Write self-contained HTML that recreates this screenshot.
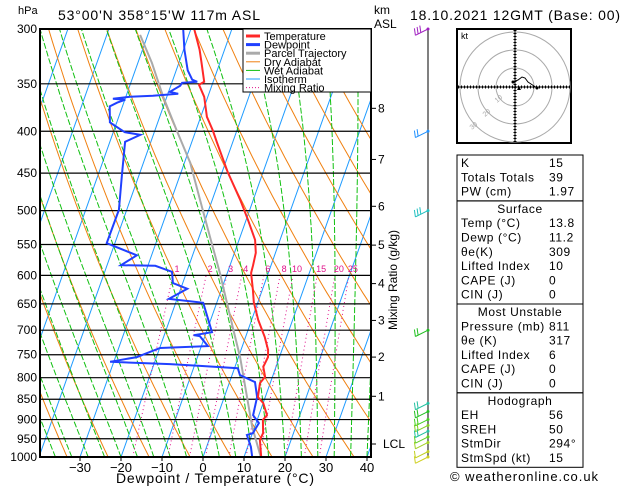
<!DOCTYPE html>
<html><head><meta charset="utf-8"><style>
body{margin:0;background:#fff;}
svg{display:block;font-family:"Liberation Sans",sans-serif;}
</style></head><body>
<svg id="c" width="629" height="486" viewBox="0 0 629 486">
<defs><clipPath id="clip"><rect x="40" y="29" width="331" height="428"/></clipPath></defs>
<g id="bg" clip-path="url(#clip)"></g>
<g id="grid"></g>
<g id="series" clip-path="url(#clip)"></g>
<rect x="40" y="29" width="331" height="428" fill="none" stroke="#000" stroke-width="2"/>
<g id="axes" font-size="12"></g>
<text x="18" y="14" font-size="11">hPa</text>
<text x="58" y="20" font-size="14" textLength="202">53°00'N  358°15'W  117m  ASL</text>
<text x="374" y="14" font-size="12">km</text>
<text x="374" y="28" font-size="12">ASL</text>
<text x="410" y="20" font-size="14" textLength="210">18.10.2021  12GMT  (Base: 00)</text>
<text x="116" y="483" font-size="14" textLength="198">Dewpoint / Temperature (°C)</text>
<text x="397" y="280" font-size="12" transform="rotate(-90 397 280)" text-anchor="middle">Mixing Ratio (g/kg)</text>
<g id="legend" font-size="11">
<rect x="243" y="29" width="128" height="63" fill="#fff" stroke="#000"/>
</g>
<g id="wind"></g>
<g id="hodo">
<rect x="457" y="29" width="114" height="114" fill="#fff" stroke="#000" stroke-width="2"/>
<circle cx="515" cy="87" r="19" fill="none" stroke="#aaa"/>
<circle cx="515" cy="87" r="37" fill="none" stroke="#aaa"/>
<circle cx="515" cy="87" r="55" fill="none" stroke="#aaa"/>
<line x1="458" y1="87" x2="570" y2="87" stroke="#000" stroke-dasharray="1 2" stroke-width="3"/>
<line x1="515" y1="30" x2="515" y2="142" stroke="#000" stroke-dasharray="1 2" stroke-width="3"/>
<line x1="458" y1="87" x2="570" y2="87" stroke="#000"/>
<line x1="515" y1="30" x2="515" y2="142" stroke="#000"/>
<text x="461" y="39" font-size="9">kt</text>
<polyline points="513,82 518,80 522,77 525,78 528,82 531,84 537,88" fill="none" stroke="#000"/>
<circle cx="513" cy="82" r="1.5"/><circle cx="537" cy="88" r="1.5"/>
<polygon points="517,90 521,90 519,86" fill="#000"/>
<text x="497" y="103" font-size="7" fill="#aaa" transform="rotate(-40 497 103)">10</text>
<text x="485" y="117" font-size="7" fill="#aaa" transform="rotate(-40 485 117)">20</text>
<text x="472" y="130" font-size="7" fill="#aaa" transform="rotate(-40 472 130)">30</text>
</g>
<g id="stats" font-size="12"></g>
<text x="450" y="481" font-size="13" textLength="148">© weatheronline.co.uk</text>
</svg>
<script>
// ---- data ----
const tempP = [1000,953,935,901,889,859,845,812,798,776,755,740,714,680,647,625,596,583,563,543,513,485,449,413,399,384,363,351,348,329,318,300];
const tempT = [14.2,12.4,12.6,11.4,12.0,10.0,8.2,7.5,8.2,6.9,7.2,6.6,4.7,1.6,-1.0,-2.3,-4.2,-4.4,-4.8,-6.1,-9.6,-13.2,-18.6,-23.8,-25.9,-28.5,-30.9,-33.2,-32.2,-34.6,-36.1,-39.2];
const dewP = [1000,972,940,935,909,889,845,810,794,779,774,770,765,755,736,732,712,710,704,648,641,623,613,594,584,583,567,548,543,499,450,412,404,401,394,390,373,369,366,365,363,362,360,358,352,349,348,346,337,318,300];
const dewT = [12.0,10.8,8.8,10.1,10.7,8.6,8.0,6.2,1.9,0.8,-8.6,-16.1,-30.9,-24.8,-19.9,-8.4,-11.2,-12.8,-8.6,-13.3,-22.0,-18.4,-22.4,-23.6,-28.2,-36.6,-33.6,-42.0,-42.0,-41.9,-44.3,-46.3,-43.2,-47.2,-50.1,-51.7,-53.1,-51.6,-49.9,-53.0,-49.0,-43.5,-37.5,-39.7,-37.7,-37.5,-33.9,-35.3,-37.2,-39.8,-41.9];
const parcelP = [1000,919,755,694,596,543,485,437,399,363,330,305];
const parcelT = [14.1,9.4,0.4,-4.0,-11.8,-16.9,-23.0,-28.6,-34.7,-40.9,-46.6,-51.9];
const pressureTicks = [300,350,400,450,500,550,600,650,700,750,800,850,900,950,1000];
const tempTicks = [-30,-20,-10,0,10,20,30,40];
const kmLabels = ["8","7","6","5","4","3","2","1"];
const kmPressures = [375,433,494,551,614,681,755,843];
const mixRatios = [1,2,3,4,6,8,10,15,20,25];
const windP = [300,400,500,700,860,880,900,915,930,945,960,985,1000];
const windSpd = [25,20,30,20,15,15,15,15,15,12,10,10,8];
const windCol = ["#a020c0","#1e90ff","#20c0c0","#20c020","#20c0a0","#20c020","#40d020","#80d020","#20c0a0","#60d020","#a0d020","#c0d020","#d0d020"];
const stats = [
 [["K","15"],["Totals Totals","39"],["PW (cm)","1.97"]],
 [["Surface",""],["Temp (°C)","13.8"],["Dewp (°C)","11.2"],["θe(K)","309"],["Lifted Index","10"],["CAPE (J)","0"],["CIN (J)","0"]],
 [["Most Unstable",""],["Pressure (mb)","811"],["θe (K)","317"],["Lifted Index","6"],["CAPE (J)","0"],["CIN (J)","0"]],
 [["Hodograph",""],["EH","56"],["SREH","50"],["StmDir","294°"],["StmSpd (kt)","15"]]
];
// ---- axes functions ----
const NS="http://www.w3.org/2000/svg";
const Y0=29,Y1=457,LN=Math.log(1000/300);
function yP(p){return Y0+(Math.log(p/300)/LN)*(Y1-Y0);}
function xT(t,p){return 203+4.1*t+0.355*(Y1-yP(p));}
function mk(tag,attrs,parent){const e=document.createElementNS(NS,tag);for(const k in attrs)e.setAttribute(k,attrs[k]);parent.appendChild(e);return e;}
const bg=document.getElementById('bg');
function poly(pts,stroke,w,dash,parent){const e=mk('polyline',{points:pts.map(q=>q[0].toFixed(1)+','+q[1].toFixed(1)).join(' '),fill:'none',stroke:stroke,'stroke-width':w},parent);if(dash)e.setAttribute('stroke-dasharray',dash);return e;}
for(let t=-130;t<=40;t+=10){const e=poly([[xT(t,1000),yP(1000)],[xT(t,300),yP(300)]],'#1e9bff',1,null,bg);}
for(let th=230;th<=460;th+=10){const pts=[];for(let p=1000;p>=300;p-=10){const T=th*Math.pow(p/1000,0.286)-273.15;pts.push([xT(T,p),yP(p)]);}const e=poly(pts,'#f08010',1,null,bg);}
function es(T){return 6.112*Math.exp(17.67*T/(T+243.5));}
function moistLapse(T,p){const Tk=T+273.15,e=es(T),r=0.622*e/(p-e),Lv=2.5e6,Rd=287,cp=1004;
 return (Rd*Tk+Lv*r)/(cp+Lv*Lv*r*0.622/(Rd*Tk*Tk))/p;}
for(let t0=-40;t0<=40;t0+=4){let T=t0;const pts=[];for(let p=1000;p>=300;p-=5){pts.push([xT(T,p),yP(p)]);T-=moistLapse(T,p)*5;}const e=poly(pts,'#10c010',1,'6 2',bg);}
const ax=document.getElementById('axes');
for(const w of mixRatios){const pts=[];for(let p=1000;p>=600;p-=10){const e=w*p/(622+w),l=Math.log(e/6.112),Td=243.5*l/(17.67-l);pts.push([xT(Td,p),yP(p)]);}
 const e=poly(pts,'#e0108a',1,'1 3',bg);
 const t=mk('text',{x:pts[pts.length-1][0]+4,y:272,'font-size':9,fill:'#e0108a','text-anchor':'middle'},ax);t.textContent=w;
 
 }
const grid=document.getElementById('grid');
for(const p of pressureTicks){const y=yP(p);const l=mk('line',{x1:40,x2:371,y1:y,y2:y,stroke:'#000','stroke-width':1.2},grid);
 
 
 const t=mk('text',{x:37,y:y+4,'text-anchor':'end'},ax);t.textContent=p;
 
 }
for(const t of tempTicks){const x=xT(t,1000);mk('line',{x1:x,x2:x,y1:457,y2:461,stroke:'#000'},ax);
 const e=mk('text',{x:x,y:472,'text-anchor':'middle','font-size':13},ax);e.textContent=(t<0?'\u2212'+(-t):t);
 
 }
kmLabels.forEach((k,i)=>{const y=yP(kmPressures[i]);mk('line',{x1:371,x2:376,y1:y,y2:y,stroke:'#000'},ax);
 const e=mk('text',{x:378,y:y+4},ax);e.textContent=k;
 
 });
mk('line',{x1:371,x2:376,y1:444,y2:444,stroke:'#000'},ax);
{const e=mk('text',{x:383,y:448},ax);e.textContent='LCL';}
const ser=document.getElementById('series');
{const e=poly(parcelP.map((p,i)=>[xT(parcelT[i],p),yP(p)]),'#aaa',2,null,ser);}
{const e=poly(dewP.map((p,i)=>[xT(dewT[i],p),yP(p)]),'#2040ff',2,null,ser);}
{const e=poly(tempP.map((p,i)=>[xT(tempT[i],p),yP(p)]),'#ff2828',2,null,ser);}
const lg=document.getElementById('legend');
[["Temperature","#ff2828",3,null],["Dewpoint","#2040ff",3,null],["Parcel Trajectory","#aaa",3,null],["Dry Adiabat","#f08010",1,null],["Wet Adiabat","#10c010",1,null],["Isotherm","#1e9bff",1,null],["Mixing Ratio","#e0108a",1,"1 2"]].forEach((r,i)=>{
 const y=36+i*8.6;const l=mk('line',{x1:246,x2:260,y1:y,y2:y,stroke:r[1],'stroke-width':r[2]},lg);if(r[3])l.setAttribute('stroke-dasharray',r[3]);
 const t=mk('text',{x:264,y:y+4,'font-size':11},lg);t.textContent=r[0];
 
 });
const wg=document.getElementById('wind');
mk('line',{x1:428,x2:428,y1:29,y2:457,stroke:'#000'},wg);
windP.forEach((p,i)=>{const y=yP(p),c=windCol[i];const L=14;
 const x2=428-L*0.9,y2=y+L*0.45;
 const g=mk('g',{},wg);
 
 
 mk('line',{x1:428,y1:y,x2:x2,y2:y2,stroke:c},g);
 let n=Math.round(windSpd[i]/10);for(let k=0;k<n;k++){const fx=x2+k*3*0.9,fy=y2-k*3*0.45;mk('line',{x1:fx,y1:fy,x2:fx-1,y2:fy-7,stroke:c},g);}
 mk('circle',{cx:428,cy:y,r:1.5,fill:c},g);});
const st=document.getElementById('stats');
let y=155;const rh=14.3;
stats.forEach(box=>{const h=box.length*rh+3;mk('rect',{x:457,y:y,width:126,height:h,fill:'none',stroke:'#000'},st);
 box.forEach((r,i)=>{const ty=y+12+i*rh;
  if(r[1]===''){const t=mk('text',{x:520,y:ty,'text-anchor':'middle','letter-spacing':0.6},st);t.textContent=r[0];}
  else{const a=mk('text',{x:461,y:ty,'letter-spacing':0.6},st);a.textContent=r[0];
   const b=mk('text',{x:549,y:ty,'letter-spacing':0.6},st);b.textContent=r[1];}});
 y+=h;});
</script>
</body></html>
